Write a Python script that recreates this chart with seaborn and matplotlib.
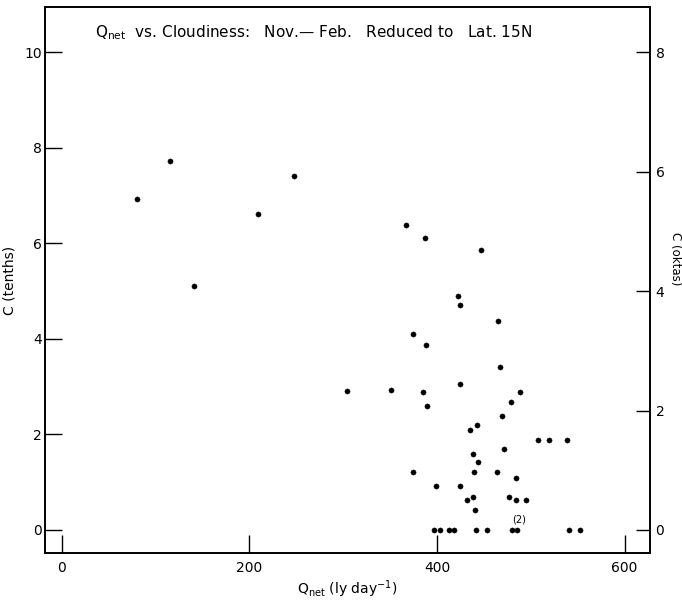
import matplotlib
matplotlib.use("Agg")
import matplotlib.pyplot as plt
import seaborn as sns
import pandas as pd

# values
q_net = [80, 115, 141, 209, 247,
         367, 387, 447, 422, 424, 465, 374, 388, 467, 425,
         304, 351, 385, 488, 479, 389, 469, 435, 443,
         508, 519, 539, 471, 438, 444, 439, 374, 464, 484,
         399, 424, 438, 432, 477, 484, 495, 440,
         397, 403, 413, 418, 442, 453, 480, 485, 541, 552]
cloud_tenths = [6.92, 7.73, 5.10, 6.62, 7.40,
                6.39, 6.10, 5.85, 4.89, 4.70, 4.37, 4.10, 3.88, 3.41, 3.06,
                2.90, 2.92, 2.89, 2.89, 2.67, 2.59, 2.38, 2.10, 2.19,
                1.88, 1.89, 1.88, 1.69, 1.59, 1.42, 1.21, 1.21, 1.21, 1.09,
                0.92, 0.91, 0.70, 0.62, 0.70, 0.62, 0.62, 0.42,
                0, 0, 0, 0, 0, 0, 0, 0, 0, 0]

x_ticks = [0, 200, 400, 600]
tenths_ticks = [0, 2, 4, 6, 8, 10]
oktas_ticks = [0, 2, 4, 6, 8]

df = pd.DataFrame({"q": q_net, "c": cloud_tenths})

sns.set_theme(style="ticks")
plt.rcParams["font.family"] = ["DejaVu Sans"]
plt.rcParams["mathtext.fontset"] = "dejavusans"
plt.rcParams["text.color"] = "black"
plt.rcParams["axes.labelcolor"] = "black"

fig = plt.figure(figsize=(6.82, 6.01), dpi=100)
ax = fig.add_axes([0.066, 0.080, 0.887, 0.908])

sns.scatterplot(data=df, x="q", y="c", ax=ax, color="black", s=14,
                edgecolor="black", linewidth=0.3)

ax.set_xlim(-18, 627)
ax.set_ylim(-0.48, 10.94)
ax.set_xticks(x_ticks)
ax.set_yticks(tenths_ticks)
ax.tick_params(axis="x", direction="in", length=13, width=1, pad=6,
               labelsize=10, colors="black")
ax.tick_params(axis="y", direction="in", length=12, width=1, pad=2,
               labelsize=10, colors="black")
for s in ax.spines.values():
    s.set_color("black")
    s.set_linewidth(1.2)

ax.set_xlabel(r"$\mathregular{Q_{net}}$ (ly day$^{-1}$)", fontsize=10,
              labelpad=2)
ax.set_ylabel("C (tenths)", fontsize=10, labelpad=6)

# right axis in oktas (10 tenths = 8 oktas)
ax2 = ax.twinx()
lo, hi = ax.get_ylim()
ax2.set_ylim(lo * 0.8, hi * 0.8)
ax2.set_yticks(oktas_ticks)
ax2.tick_params(axis="y", direction="in", length=10, width=1, pad=4,
                labelsize=10, colors="black")
ax2.set_ylabel("C (oktas)", fontsize=8.5, rotation=-90, va="center")
ax2.yaxis.set_label_coords(1.042, 0.54)
for s in ax2.spines.values():
    s.set_color("black")
    s.set_linewidth(1.2)

ax.text(0.083, 0.954,
        r"$\mathregular{Q_{net}}$  vs. Cloudiness:   Nov.— Feb.   Reduced to   Lat. 15N",
        transform=ax.transAxes, ha="left", va="center", fontsize=11)

ax.text(487, 0.12, "(2)", ha="center", va="bottom", fontsize=7)

fig.savefig("out.png", dpi=100)
